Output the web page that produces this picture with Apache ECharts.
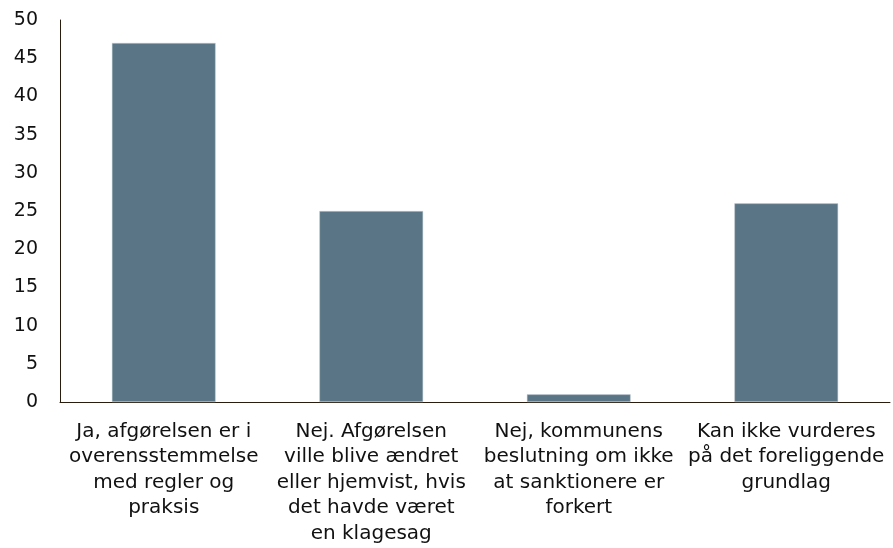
<!DOCTYPE html>
<html>
<head>
<meta charset="utf-8">
<script src="https://cdn.jsdelivr.net/npm/echarts@6/dist/echarts.min.js"></script>
<style>
  html, body { margin: 0; padding: 0; background: #fff; }
  #chart { width: 893px; height: 548px; }
</style>
</head>
<body>
<div id="chart"></div>
<script>
// kategorier (linjeskift som i originalen)
const categories = [
  'Ja, afgørelsen er i\noverensstemmelse\nmed regler og\npraksis',
  'Nej. Afgørelsen\nville blive ændret\neller hjemvist, hvis\ndet havde været\nen klagesag',
  'Nej, kommunens\nbeslutning om ikke\nat sanktionere er\nforkert',
  'Kan ikke vurderes\npå det foreliggende\ngrundlag'
]
const values = [47, 25, 1, 26]

const font = 'DejaVu Sans, Verdana, sans-serif'

let chart = echarts.init(document.getElementById('chart'))
chart.setOption({
  animation: false,
  grid: { left: 60, right: 3, top: 20, bottom: 146, outerBoundsMode: 'none' },
  xAxis: {
    type: 'category',
    data: categories,
    axisLine: { lineStyle: { color: '#2b1d0e', width: 1 } },
    axisTick: { show: false },
    axisLabel: {
      interval: 0,
      color: '#111',
      fontFamily: font,
      fontSize: 20,
      lineHeight: 25.5,
      margin: 17
    }
  },
  yAxis: {
    type: 'value',
    min: 0,
    max: 50,
    interval: 5,
    axisLine: { show: true, lineStyle: { color: '#2b1d0e', width: 1 } },
    axisTick: { show: false },
    splitLine: { show: false },
    axisLabel: {
      color: '#111',
      fontFamily: font,
      fontSize: 19,
      margin: 22
    }
  },
  series: [{
    type: 'bar',
    data: values,
    barWidth: '50%',
    itemStyle: { color: '#5a7686', borderColor: '#c9d3d9', borderWidth: 0.5 }
  }]
})
</script>
</body>
</html>
